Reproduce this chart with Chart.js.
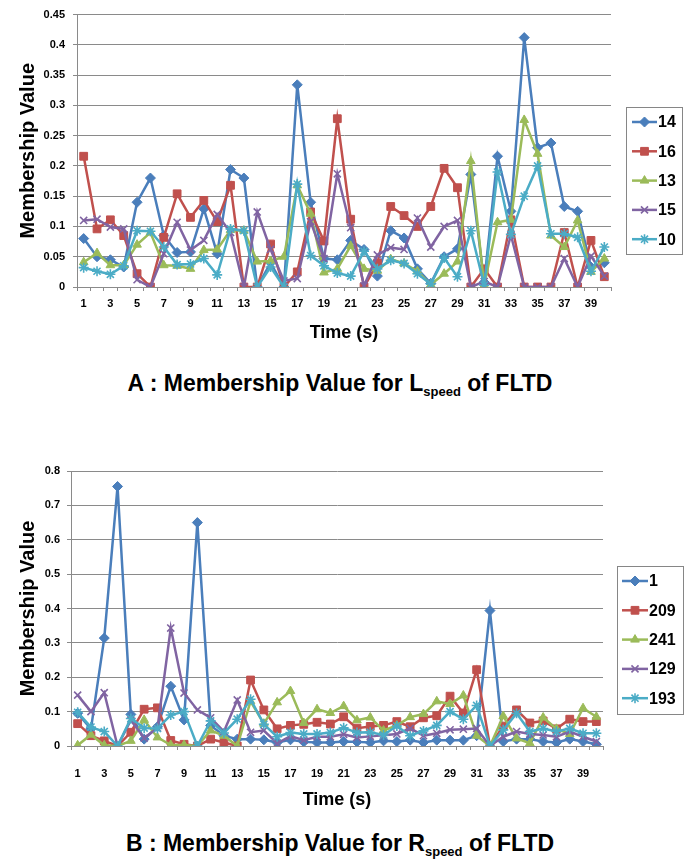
<!DOCTYPE html>
<html>
<head>
<meta charset="utf-8">
<script src="https://cdn.jsdelivr.net/npm/chart.js@4.4.0/dist/chart.umd.min.js"></script>
<style>
  body { margin: 0; background: #fff; width: 697px; height: 859px; position: relative; overflow: hidden;
         font-family: "Liberation Sans", Arial, sans-serif; }
  canvas { position: absolute; left: 0; }
  #chartA { top: 0; }
  #chartB { top: 420px; }
  .cap { position: absolute; left: 0; width: 680px; text-align: center; font-weight: bold;
         font-size: 23px; line-height: 26px; color: #000; }
  .cap sub { font-size: 13px; vertical-align: -5px; line-height: 0; }
</style>
</head>
<body>
<canvas id="chartA" width="697" height="350"></canvas>
<canvas id="chartB" width="697" height="395"></canvas>
<div class="cap" style="top:370px">A : Membership Value for L<sub>speed</sub> of FLTD</div>
<div class="cap" style="top:830px">B : Membership Value for R<sub>speed</sub> of FLTD</div>
<script>
const timeLabels = [];
for (let i = 1; i <= 40; i++) timeLabels.push(String(i));

// chart A : L speed
const namesA = ["14", "16", "13", "15", "10"];
const l14 = [0.08,0.05,0.045,0.033,0.14,0.18,0.085,0.057,0.058,0.129,0.055,0.194,0.18,0,0.04,0,0.334,0.14,0.047,0.045,0.077,0.062,0.018,0.093,0.081,0.03,0.006,0.05,0.063,0.186,0.008,0.216,0.125,0.412,0.23,0.238,0.133,0.125,0.033,0.04];
const l16 = [0.216,0.096,0.111,0.085,0.022,0,0.082,0.154,0.115,0.143,0.108,0.168,0,0,0.071,0,0.025,0.124,0.076,0.278,0.112,0,0.039,0.133,0.118,0.1,0.133,0.196,0.164,0,0.03,0,0.111,0,0,0,0.09,0,0.077,0.017];
const l13 = [0.041,0.056,0.036,0.036,0.07,0.09,0.036,0.035,0.03,0.061,0.062,0.094,0.093,0.042,0.043,0.05,0.168,0.121,0.024,0.03,0.068,0.03,0.027,0.046,0.039,0.026,0.004,0.022,0.042,0.208,0.003,0.107,0.111,0.276,0.22,0.085,0.066,0.11,0.025,0.047];
const l15 = [0.11,0.112,0.099,0.096,0.012,0,0.055,0.107,0.061,0.077,0.12,0.09,0,0.124,0.062,0.01,0.014,0.108,0.047,0.187,0.098,0.002,0.053,0.065,0.062,0.114,0.066,0.1,0.11,0,0.009,0,0.086,0,0,0,0.047,0,0.051,0.018];
const l10 = [0.032,0.026,0.021,0.035,0.093,0.092,0.066,0.037,0.038,0.047,0.02,0.096,0.093,0,0.033,0,0.17,0.052,0.035,0.023,0.018,0.059,0.03,0.044,0.039,0.022,0.005,0.048,0.017,0.093,0.003,0.19,0.087,0.15,0.2,0.088,0.088,0.082,0.026,0.066];

// chart B : R speed
const namesB = ["1", "209", "241", "129", "193"];
const r1 = [0.095,0.05,0.314,0.755,0.092,0.02,0.056,0.174,0.076,0.65,0.06,0.03,0.02,0.02,0.018,0.01,0.018,0.012,0.01,0.01,0.013,0.012,0.01,0.015,0.013,0.017,0.01,0.017,0.017,0.017,0.03,0.394,0.013,0.02,0.02,0.013,0.01,0.02,0.013,0.005];
const r209 = [0.065,0.03,0.015,0,0.04,0.107,0.111,0.016,0.005,0,0.02,0.01,0,0.192,0.105,0.05,0.06,0.063,0.069,0.064,0.085,0.052,0.057,0.06,0.071,0.056,0.082,0.088,0.145,0.096,0.222,0,0.058,0.105,0.067,0.073,0.05,0.078,0.071,0.071];
const r241 = [0.002,0.033,0.002,0,0.015,0.076,0.025,0.003,0.003,0,0.045,0.03,0,0.13,0.065,0.127,0.16,0.067,0.107,0.096,0.116,0.075,0.083,0.045,0.06,0.084,0.093,0.13,0.122,0.147,0.03,0,0.087,0.022,0.008,0.083,0.05,0.035,0.11,0.085];
const r129 = [0.148,0.1,0.155,0,0.075,0.023,0.052,0.343,0.154,0.105,0.082,0.042,0.134,0.04,0.045,0.008,0.029,0.017,0.027,0.027,0.034,0.025,0.028,0.031,0.035,0.051,0.03,0.037,0.047,0.049,0.051,0,0.027,0.042,0.035,0.032,0.027,0.042,0.027,0.013];
const r193 = [0.098,0.055,0.042,0,0.08,0.052,0.051,0.09,0.1,0,0.073,0.038,0.078,0.136,0.063,0.027,0.039,0.035,0.035,0.039,0.053,0.039,0.04,0.032,0.058,0.03,0.044,0.06,0.1,0.078,0.118,0,0.047,0.095,0.042,0.051,0.042,0.051,0.037,0.037];

const colors = ["#4a7ebb", "#c0504d", "#9bbb59", "#8064a2", "#4bacc6"];
const markers = ["rectRot", "rect", "triangle", "crossRot", "star"];
const radii = [5, 5.5, 5, 5, 5];
const gridColor = "#8a8a8a";
const tickFont = { family: "Liberation Sans", size: 11, weight: "bold" };

// legend with frame, line + marker per series
const boxLegend = {
  id: "boxLegend",
  afterDraw(chart, args, opts) {
    const ctx = chart.ctx;
    const b = opts.box;
    ctx.save();
    ctx.strokeStyle = "#868686";
    ctx.lineWidth = 1;
    ctx.strokeRect(b.x + 0.5, b.y + 0.5, b.w, b.h);
    chart.data.datasets.forEach((ds, i) => {
      const y = b.y + opts.first + i * opts.step;
      ctx.strokeStyle = ds.borderColor;
      ctx.fillStyle = ds.borderColor;
      ctx.lineWidth = ds.borderWidth;
      ctx.beginPath();
      ctx.moveTo(b.x + opts.x0, y);
      ctx.lineTo(b.x + opts.x1, y);
      ctx.stroke();
      ctx.lineWidth = ds.pointBorderWidth;
      Chart.helpers.drawPoint(ctx, { pointStyle: ds.pointStyle, radius: ds.pointRadius, rotation: 0, borderWidth: ds.pointBorderWidth },
        b.x + (opts.x0 + opts.x1) / 2, y);
      ctx.fillStyle = "#000";
      ctx.font = "bold 16px 'Liberation Sans'";
      ctx.textBaseline = "middle";
      ctx.textAlign = "left";
      ctx.fillText(ds.label, b.x + opts.x1 + 1, y + 1);
    });
    ctx.restore();
  }
};

function buildChart(id, names, series, yMax, yStep, geo) {
  const datasets = series.map((vals, i) => ({
    label: names[i],
    data: vals,
    borderColor: colors[i],
    backgroundColor: colors[i],
    borderWidth: 2.5,
    pointStyle: markers[i],
    pointRadius: radii[i],
    pointBorderWidth: i >= 3 ? 1.6 : 1,
    pointBackgroundColor: colors[i],
    pointBorderColor: colors[i],
    tension: 0,
    order: series.length - 1 - i
  }));
  return new Chart(document.getElementById(id), {
    type: "line",
    data: { labels: timeLabels, datasets: datasets },
    plugins: [boxLegend],
    options: {
      responsive: false,
      animation: false,
      layout: { padding: geo.padding },
      plugins: {
        legend: { display: false },
        tooltip: { enabled: false },
        boxLegend: geo.legend
      },
      scales: {
        x: {
          offset: true,
          grid: { display: true, offset: true, drawOnChartArea: false, drawTicks: true, tickLength: 4, color: gridColor },
          border: { display: true, color: gridColor },
          ticks: {
            autoSkip: false, maxRotation: 0, color: "#000", font: tickFont, padding: geo.xTickPad,
            callback: (v, i) => (i % 2 === 0 ? timeLabels[i] : "")
          },
          title: { display: true, text: "Time (s)", color: "#000",
                   font: { family: "Liberation Sans", size: 18, weight: "bold" }, padding: { top: 0, bottom: geo.xTitlePad } },
          afterFit: (s) => { s.height = geo.xHeight; }
        },
        y: {
          min: 0, max: yMax,
          grid: { color: gridColor, tickLength: 4 },
          border: { display: true, color: gridColor },
          ticks: { stepSize: yStep, color: "#000", font: tickFont, padding: geo.yTickPad,
                   callback: (v) => String(Number(v.toFixed(2))) },
          title: { display: true, text: "Membership Value", color: "#000",
                   font: { family: "Liberation Sans", size: 20, weight: "bold" }, padding: { top: geo.yTitlePad, bottom: 0 } },
          afterFit: (s) => { s.width = geo.yWidth; }
        }
      }
    }
  });
}

buildChart("chartA", namesA, [l14, l16, l13, l15, l10], 0.45, 0.05, {
  padding: { top: 12, right: 86, left: 0, bottom: 0 },
  yWidth: 77, xHeight: 63, xTickPad: 6, xTitlePad: 6, yTickPad: 8, yTitlePad: 16,
  legend: { box: { x: 626, y: 107, w: 56, h: 147 }, first: 15, step: 29.3, x0: 6, x1: 31 }
});

buildChart("chartB", namesB, [r1, r209, r241, r129, r193], 0.8, 0.1, {
  padding: { top: 51, right: 94, left: 0, bottom: 0 },
  yWidth: 71, xHeight: 69, xTickPad: 17, xTitlePad: 4, yTickPad: 7, yTitlePad: 16,
  legend: { box: { x: 617, y: 146, w: 66, h: 148 }, first: 15, step: 29.3, x0: 5, x1: 31 }
});
</script>
</body>
</html>
